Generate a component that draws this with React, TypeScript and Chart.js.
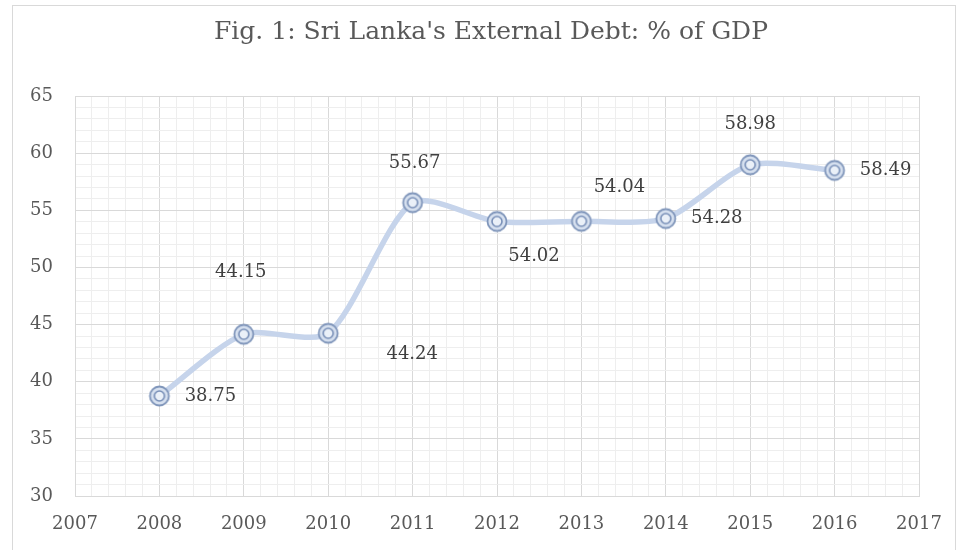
import React, { useEffect, useRef } from "react";
import { Chart, registerables } from "chart.js";

Chart.register(...registerables);

const years = [2008, 2009, 2010, 2011, 2012, 2013, 2014, 2015, 2016];
const debtPct = [38.75, 44.15, 44.24, 55.67, 54.02, 54.04, 54.28, 58.98, 58.49];
const xTickRange = [2007, 2017];
const yTickRange = [30, 65];
const titleText = "Fig. 1: Sri Lanka's External Debt: % of GDP";

// label placement relative to each point (dx, dy in px)
const labelOffsets: [number, number][] = [
  [51, 0],
  [-3, -62],
  [84, 21],
  [2, -39],
  [37, 35],
  [38, -34],
  [51, 0],
  [0, -40],
  [51, 0],
];

const SERIF = "'DejaVu Serif', serif";

function makeMarker(): HTMLCanvasElement {
  const c = document.createElement("canvas");
  c.width = 24;
  c.height = 24;
  const g = c.getContext("2d")!;
  g.beginPath();
  g.arc(12, 12, 9.5, 0, Math.PI * 2);
  g.fillStyle = "#d6e0ef";
  g.fill();
  g.lineWidth = 1.8;
  g.strokeStyle = "#7f95ba";
  g.stroke();
  g.beginPath();
  g.arc(12, 12, 5, 0, Math.PI * 2);
  g.fillStyle = "#eaf0f8";
  g.fill();
  g.lineWidth = 1.6;
  g.strokeStyle = "#7990b8";
  g.stroke();
  return c;
}

const labelPlugin = {
  id: "valueLabels",
  afterDatasetsDraw(chart: any) {
    const ctx = chart.ctx;
    const meta = chart.getDatasetMeta(0);
    ctx.save();
    ctx.font = `18px ${SERIF}`;
    ctx.fillStyle = "#404040";
    ctx.textAlign = "center";
    ctx.textBaseline = "middle";
    meta.data.forEach((el: any, i: number) => {
      const [dx, dy] = labelOffsets[i] || [0, 0];
      ctx.fillText(debtPct[i].toFixed(2), el.x + dx, el.y + dy);
    });
    ctx.restore();
  },
};

const titlePlugin = {
  id: "figTitle",
  afterDraw(chart: any) {
    const ctx = chart.ctx;
    ctx.save();
    ctx.font = `25px ${SERIF}`;
    ctx.fillStyle = "#595959";
    ctx.textAlign = "center";
    ctx.textBaseline = "middle";
    ctx.fillText(titleText, 491, 32);
    ctx.restore();
  },
};

const isInt = (v: number) => Math.abs(v - Math.round(v)) < 1e-6;

export default function App() {
  const ref = useRef<HTMLCanvasElement>(null);
  useEffect(() => {
    const marker = makeMarker();
    const chart = new Chart(ref.current!, {
      type: "line",
      data: {
        datasets: [
          {
            data: years.map((y, i) => ({ x: y, y: debtPct[i] })),
            borderColor: "#c6d4eb",
            borderWidth: 5.5,
            tension: 0.25,
            pointStyle: marker as any,
            pointRadius: 10,
            pointHoverRadius: 10,
          },
        ],
      },
      options: {
        animation: false,
        responsive: false,
        maintainAspectRatio: false,
        layout: { padding: { left: 0, right: 41, top: 96, bottom: 0 } },
        plugins: {
          legend: { display: false },
          tooltip: { enabled: false },
          title: { display: false },
        },
        scales: {
          x: {
            type: "linear",
            min: xTickRange[0],
            max: xTickRange[1],
            afterFit: (s: any) => {
              s.height = 54;
            },
            ticks: {
              stepSize: 0.2,
              autoSkip: false,
              maxRotation: 0,
              padding: 18,
              color: "#595959",
              font: { family: SERIF, size: 18 },
              callback: (v: any) => (isInt(Number(v)) ? String(Math.round(Number(v))) : ""),
            },
            grid: {
              drawTicks: false,
              color: (c: any) => (isInt(c.tick.value) ? "#d9d9d9" : "#eeeeee"),
            },
            border: { display: true, color: "#d9d9d9" },
          },
          y: {
            min: yTickRange[0],
            max: yTickRange[1],
            afterFit: (s: any) => {
              s.width = 75;
            },
            ticks: {
              stepSize: 1,
              autoSkip: false,
              padding: 22,
              color: "#595959",
              font: { family: SERIF, size: 18 },
              callback: (v: any) => (Math.round(Number(v)) % 5 === 0 ? String(Math.round(Number(v))) : ""),
            },
            grid: {
              drawTicks: false,
              color: (c: any) => (Math.round(c.tick.value) % 5 === 0 ? "#d9d9d9" : "#eeeeee"),
            },
            border: { display: true, color: "#d9d9d9" },
          },
        },
      },
      plugins: [labelPlugin, titlePlugin],
    });
    return () => chart.destroy();
  }, []);

  return (
    <div
      style={{
        position: "absolute",
        left: 0,
        top: 0,
        width: 960,
        height: 550,
        overflow: "hidden",
        background: "#fff",
      }}
    >
      <div
        style={{
          position: "absolute",
          left: 12,
          top: 5,
          width: 942,
          height: 600,
          border: "1px solid #d9d9d9",
        }}
      />
      <canvas ref={ref} width={960} height={550} style={{ position: "absolute", left: 0, top: 0 }} />
    </div>
  );
}
